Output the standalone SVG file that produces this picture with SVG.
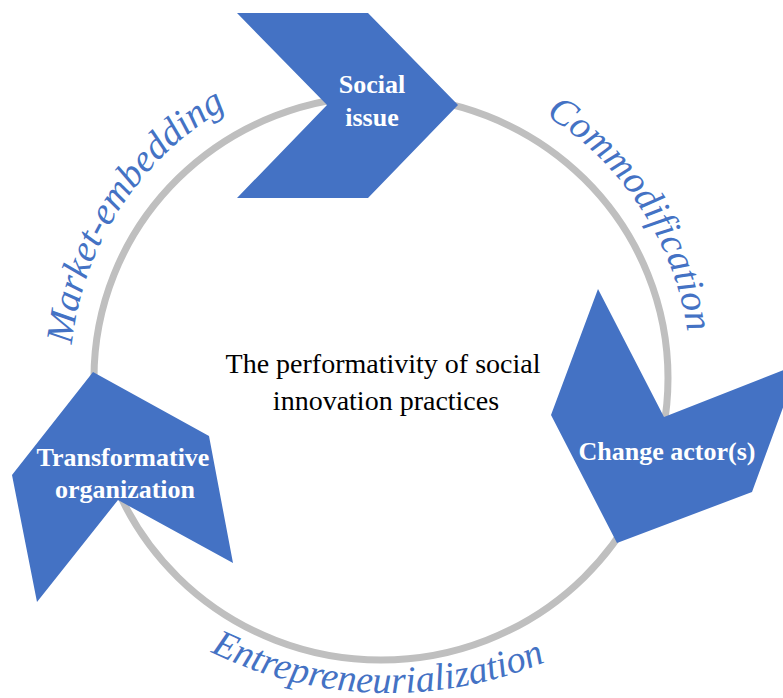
<svg xmlns="http://www.w3.org/2000/svg" width="783" height="698" viewBox="0 0 783 698">
<style>
.chev{fill:#4472C4;}
.lbl{font-family:"Liberation Serif","Times New Roman",serif;font-weight:bold;font-size:26px;fill:#FFFFFF;text-anchor:middle;}
.arcl{font-family:"Liberation Serif","Times New Roman",serif;font-style:italic;font-size:38.5px;fill:#4472C4;}
.ctr{font-family:"Liberation Serif","Times New Roman",serif;font-size:28px;fill:#000000;text-anchor:middle;}
.ring{fill:none;stroke:#BFBFBF;stroke-width:7;}
</style>
<defs>
<path id="arcMarket" d="M 70,378 A 311 311 0 0 1 381,67"/>
<path id="arcCommod" d="M 381,68 A 310 310 0 0 1 691,378"/>
<path id="arcEntre" d="M 125.5,597.1 A 410 410 0 0 0 652.5,597.1"/>
</defs>
<rect width="783" height="698" fill="#FFFFFF"/>
<g id="connectors">
<ellipse class="ring" cx="381" cy="378" rx="287" ry="282"/>
<text class="arcl"><textPath href="#arcMarket" startOffset="180" text-anchor="middle">Market-embedding</textPath></text>
<text class="arcl"><textPath href="#arcCommod" startOffset="307" text-anchor="middle">Commodification</textPath></text>
<text class="arcl" style="font-size:38px"><textPath href="#arcEntre" startOffset="274" text-anchor="middle">Entrepreneurialization</textPath></text>
</g>
<g id="node-social-issue">
<polygon class="chev" points="237,13 368,13 458,105 368,198 237,198 327,105"/>
<text class="lbl" x="372" y="93">Social</text>
<text class="lbl" x="372" y="126">issue</text>
</g>
<g id="node-change-actors">
<polygon class="chev" points="598,289 551,415 617,543 752,492 799,364 664,417"/>
<text class="lbl" x="667" y="460">Change actor(s)</text>
</g>
<g id="node-transformative-organization">
<polygon class="chev" points="93,372 209,436 233,563 118,500 37,602 12,475"/>
<text class="lbl" x="123" y="466">Transformative</text>
<text class="lbl" x="125" y="498">organization</text>
</g>
<g id="node-center">
<text class="ctr" x="383" y="373">The performativity of social</text>
<text class="ctr" x="386" y="410">innovation practices</text>
</g>
</svg>
